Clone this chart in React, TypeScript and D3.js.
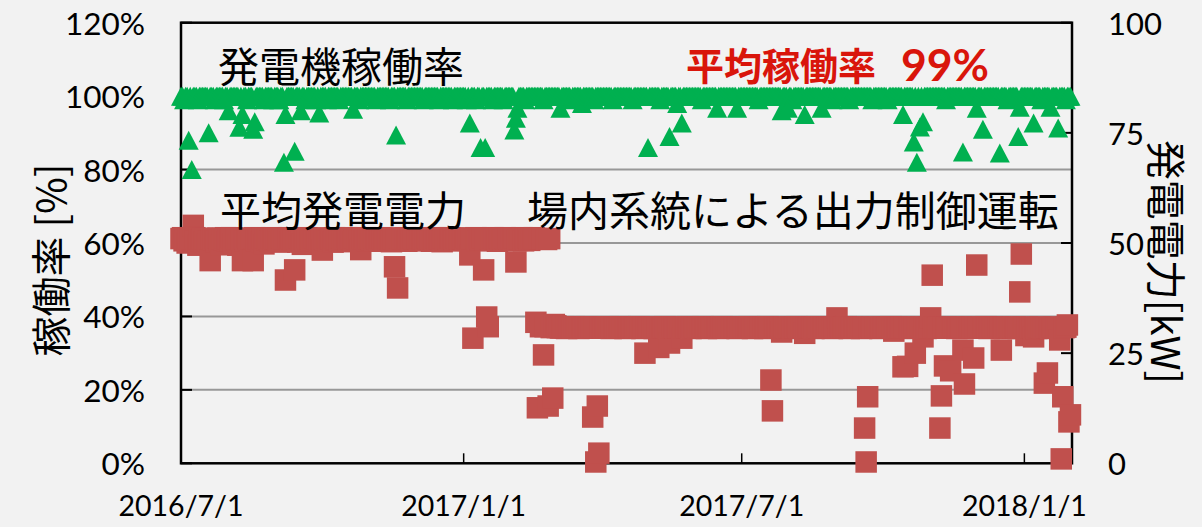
import React from "react";
import * as d3 from "d3";

// ---------- data ----------
const months = [
  "2016-07", "2016-08", "2016-09", "2016-10", "2016-11", "2016-12",
  "2017-01", "2017-02", "2017-03", "2017-04", "2017-05", "2017-06",
  "2017-07", "2017-08", "2017-09", "2017-10", "2017-11", "2017-12",
  "2018-01",
];

// daily generator availability [%], one row per month
const availabilityPct: number[][] = [
  [100,100,99,100,100,88,100,80,100,100, 100,99,100,100,100,100,100,100,90,100, 100,100,99,100,100,100,100,100,99,100,100],
  [96,100,100,100,100,100,100,91.5,100,95, 100,100,99,100,100,100,91,93,100,100, 100,100,100,99,100,100,100,100,100,99,100],
  [100,100,99,100,100,82,95,100,100,100, 100,100,85,100,100,100,96,100,100,99, 100,100,100,100,100,100,99,100,95.4,100],
  [100,100,100,99,100,100,100,100,100,100, 100,99,100,100,100,100,100,100,100,100, 96.4,100,100,100,99,100,100,100,100,100,100],
  [100,100,100,100,99,100,100,100,100,100, 100,100,100,99,100,100,100,89.4,100,100, 100,100,100,100,99,100,100,100,100,100],
  [100,100,100,100,100,99,100,100,100,100, 100,100,100,100,100,99,100,100,100,100, 100,100,100,100,99,100,100,100,100,100,100],
  [100,100,99,100,92.7,100,100,100,99,100, 100,86,100,100,86,100,100,100,100,99, 100,100,100,100,100,100,99,100,100,100,100],
  [100,100,90.8,94,96.7,100,100,100,100,99, 100,100,100,100,100,100,100,100,100,100, 100,99,100,100,100,100,100,100],
  [100,100,100,100,96.7,100,100,100,100,100, 100,99,100,100,100,100,100,100,98,100, 100,100,100,100,100,100,99,100,100,100,100],
  [100,100,100,100,100,100,100,99,100,100, 100,100,100,100,100,100,100,100,100,100, 99,100,100,100,100,100,100,100,100,100],
  [86,100,100,100,100,100,100,100,99,100, 100,100,100,100,89,100,100,100,100,98, 100,100,92.7,100,100,100,100,100,100,100,100],
  [100,100,100,100,99,100,100,100,100,100, 100,100,100,100,96.7,100,100,100,100,100, 100,100,100,100,100,100,100,96.7,100,100],
  [100,100,100,100,100,100,100,100,100,100, 100,99,100,100,100,100,100,100,100,100, 100,100,100,100,100,100,96,100,100,100,96.7],
  [100,100,99,100,100,100,100,100,100,100, 95,100,100,100,100,100,100,100,100,100, 100,96.7,100,100,100,100,100,100,99,100,100],
  [100,100,100,100,100,100,100,100,99,100, 100,100,100,100,100,100,100,100,100,100, 100,100,100,99,100,100,100,100,100,100],
  [100,100,100,99,100,100,100,100,100,100, 100,100,100,95,100,100,100,100,100,100, 87.5,100,82,100,91.6,100,93,100,100,100,100],
  [100,100,100,100,100,100,100,100,100,100, 99,100,100,100,100,100,100,100,100,100, 100,84.8,100,100,100,100,100,100,100,100],
  [96.7,100,100,100,91,100,100,100,100,100, 100,100,100,100,100,84.5,100,100,100,100, 99,100,100,100,100,100,100,89,97,100,100],
  [100,100,100,100,100,100,92.7,100,100,100, 100,99,100,100,100,100,100,97,100,100, 100,100,91.3,100,100,100,100,99,100,100,100],
];

// daily average generated power [kW], one row per month
const powerKW: number[][] = [
  [51,51.2,50.5,51,50,51,50.8,51,54,51.2, 50.5,49.5,51,50.6,51,50.2,51,49.8,50.5,46, 51,50.8,51,50.3,51.1,50.6,49.6,51,50.8,51.2,50.4],
  [51,50.6,51.2,50,50.8,51,49.5,51,50.7,46, 51,50.4,51.1,50.8,50,51,46,51.2,50.6,51, 50.9,50.2,51,49.8,51.1,50.7,51,50.5,51.2,50.8,51],
  [51,50.8,50.2,51.1,50.6,51,41.6,50.9,51.2,50.4, 51,50.7,43.9,51,50.2,51.1,50.8,49.7,51,50.6, 51.2,50.9,51,50.4,50.8,51.1,50.6,51,50.3,51],
  [48.4,51,50.8,51.1,50.5,51,50.9,50.2,51.2,50.7, 51,50.6,51.1,50.8,50.3,51,51.2,50.6,50.9,51, 50.5,51.1,50.8,51,50.4,48.5,51,50.9,51.2,50.6,51],
  [51,50.8,51.1,50.4,51,50.9,50.6,51.2,51,50.5, 50.8,51.1,50.7,51,50.3,51,44.6,50.8,39.8,51.1, 50.6,51,50.9,51.2,50.4,51,50.8,50.6,51.1,51],
  [50.9,51,50.5,51.2,50.8,51,50.6,51.1,50.9,51, 50.4,51,50.8,51.2,50.7,51,50.9,50.3,51.1,50.8, 51,50.6,51.2,50.9,51,50.5,51.1,50.8,51,50.6,51],
  [51,50.8,51.1,50.6,47.3,51,28.4,50.9,51.2,50.5, 51,50.8,51.1,43.9,50.7,33.2,31,51,50.6,51.2, 50.9,51,50.4,51.1,50.8,51,50.6,51.2,50.9,51,50.7],
  [51,50.8,51.1,45.7,50.6,51,50.9,51.2,50.5,51, 50.8,51.1,50.6,51,50.9,51.2,32,12.6,51,31, 51,24.6,31,50.8,13,51,30.8,14.8],
  [31.5,31.2,30.8,30.9,30.7,30.8,31,30.8,30.6,30.8, 30.9,30.8,30.7,31,30.8,30.8,30.6,30.9,30.8,30.7, 30.8,31,30.8,30.7,30.9,10.5,30.8,0.3,13,2.3,30.8],
  [30.8,30.7,30.9,30.8,31,30.8,30.6,30.8,30.9,30.8, 30.7,30.8,31,30.8,30.8,30.6,30.9,30.8,30.7,30.8, 30.9,30.8,30.7,30.8,31,30.8,30.6,30.8,25,30.8],
  [30.8,30.7,30.9,30.8,30.6,30.8,30.9,26.3,30.8,30.7, 30.8,31,30.8,30.6,27.3,30.8,30.9,30.8,30.7,30.8, 30.8,30.9,28.4,30.8,30.7,30.8,31,30.8,30.6,30.8,30.9],
  [30.8,30.7,30.9,30.8,30.8,31,30.8,30.6,30.8,30.9, 30.8,30.7,30.8,30.9,30.8,30.6,30.8,31,30.8,30.7, 30.9,30.8,30.8,30.7,30.8,30.9,30.8,30.6,30.8,30.8],
  [30.8,30.9,30.7,30.8,30.8,31,30.8,30.6,30.8,30.9, 30.8,30.7,30.8,30.9,30.8,30.6,30.8,31,30.8,18.9, 11.9,30.8,30.9,30.8,30.7,30.8,29.8,30.8,30.9,30.8,30.7],
  [30.8,30.9,30.7,30.8,30.8,31,30.8,30.6,30.8,30.9, 29.5,30.8,30.7,30.8,30.9,30.8,30.6,30.8,31,30.8, 30.7,30.9,30.8,30.8,30.7,30.8,30.9,30.8,30.6,30.8,30.8],
  [33,30.8,30.9,30.7,30.8,30.8,31,30.8,30.6,30.8, 30.9,30.8,30.7,30.8,30.9,30.8,30.6,30.8,8,0.3, 15.1,30.8,30.9,30.8,30.7,30.8,30.9,30.8,30.6,30.8],
  [30.8,30.9,30.7,30.8,30.8,31,30.8,30,30.8,30.9, 30.8,30.7,30.8,21.9,30.9,30.8,22,30.8,30.6,30.8, 30.9,25,30.8,30.7,30.8,30.9,28.7,30.8,30.6,30.8,30.8],
  [33,42.7,30.8,30.9,30.7,30.8,8,15.3,30.8,22.1, 30.9,30.8,30.7,21,30.8,30.9,30.8,30.6,30.8,30.8, 30.9,25.7,18,30.8,30.7,30.8,30.9,30.8,23.9,30.8],
  [45,30.8,30.9,30.7,30.8,30.8,31,30.8,30.6,30.8, 30.9,30.8,30.7,30.8,30.9,30.8,25.7,30.8,30.6,30.8, 30.8,30.9,30.7,30.8,30.8,30.9,30.8,30.6,38.9,47.5,30.8],
  [30.8,29,30.9,30.7,30.8,30.8,28.7,30.8,30.6,30.8, 30.9,30.8,30.7,18.2,30.8,20.5,30.8,30.6,30.8,30.9, 30.8,30.7,30.8,28,1,15.1,30.8,30.9,31.4,9.4,11],
];

const leftTicks = [0, 20, 40, 60, 80, 100, 120];
const rightTicks = [0, 25, 50, 75, 100];
const dateTicks = ["2016-07-01", "2017-01-01", "2017-07-01", "2018-01-01"];
const xDomain = ["2016-07-01", "2018-02-01"];

const availabilityTitle = "発電機稼働率";
const averageLabel = "平均稼働率";
const averageValue = "99%";
const powerTitle = "平均発電電力";
const controlLabel = "場内系統による出力制御運転";
const leftAxisTitle = "稼働率 [%]";
const rightAxisTitle = "発電電力[kW]";

// ---------- layout ----------
const W = 1202;
const H = 527;
const P = { left: 181, right: 1072, top: 22.7, bottom: 463.3 };
const GREEN = "#00b050";
const RED = "#c0504d";
const LAT = "Lato, 'Open Sans', sans-serif";
const CJK = "'Noto Sans CJK JP', 'Noto Sans', sans-serif";

const parseDay = d3.utcParse("%Y-%m-%d");
const fmt = d3.utcFormat("%Y/%-m/%-d");

function expand(series: number[][]) {
  const out: { date: Date; v: number }[] = [];
  months.forEach((m, mi) => {
    const [y, mo] = m.split("-").map(Number);
    series[mi].forEach((v, i) => {
      out.push({ date: new Date(Date.UTC(y, mo - 1, i + 1)), v });
    });
  });
  return out;
}

export default function App() {
  const x = d3
    .scaleUtc()
    .domain(xDomain.map((s) => parseDay(s) as Date))
    .range([P.left, P.right]);
  const yL = d3.scaleLinear().domain([0, 120]).range([P.bottom, P.top]);
  const yR = d3.scaleLinear().domain([0, 100]).range([P.bottom, P.top]);

  const avail = expand(availabilityPct);
  const power = expand(powerKW);

  const tw = 20;
  const th = 19;
  const tri = `M0,${-th / 2}L${tw / 2},${th / 2}L${-tw / 2},${th / 2}Z`;
  const sq = 21.5;

  return (
    <svg
      width={W}
      height={H}
      style={{ position: "absolute", left: 0, top: 0, display: "block" }}
    >
      <rect x={0} y={0} width={W} height={H} fill="#f2f2f2" />

      {/* gridlines */}
      {leftTicks
        .filter((t) => t > 0 && t < 120)
        .map((t) => (
          <line
            key={"g" + t}
            x1={P.left}
            x2={P.right}
            y1={yL(t)}
            y2={yL(t)}
            stroke="#989898"
            strokeWidth={2}
          />
        ))}

      {/* frame */}
      <rect
        x={P.left}
        y={P.top}
        width={P.right - P.left}
        height={P.bottom - P.top}
        fill="none"
        stroke="#000"
        strokeWidth={2.5}
      />

      {/* ticks */}
      {leftTicks.map((t) => (
        <line key={"lt" + t} x1={P.left} x2={P.left + 11} y1={yL(t)} y2={yL(t)} stroke="#000" strokeWidth={2} />
      ))}
      {rightTicks.map((t) => (
        <line key={"rt" + t} x1={P.right - 11} x2={P.right} y1={yR(t)} y2={yR(t)} stroke="#000" strokeWidth={2} />
      ))}
      {dateTicks.map((s) => {
        const xx = x(parseDay(s) as Date);
        return <line key={"bt" + s} x1={xx} x2={xx} y1={P.bottom - 10} y2={P.bottom} stroke="#000" strokeWidth={1.5} />;
      })}

      {/* tick labels */}
      {leftTicks.map((t) => (
        <text key={"ll" + t} x={145} y={yL(t)} textAnchor="end" dominantBaseline="central" fontFamily={LAT} fontSize={31.5} fill="#000">
          {t + "%"}
        </text>
      ))}
      {rightTicks.map((t) => (
        <text key={"rl" + t} x={1108} y={yR(t)} textAnchor="start" dominantBaseline="central" fontFamily={LAT} fontSize={31} fill="#000">
          {t}
        </text>
      ))}
      {dateTicks.map((s) => (
        <text key={"bl" + s} x={x(parseDay(s) as Date)} y={505} textAnchor="middle" dominantBaseline="central" fontFamily={LAT} fontSize={28.5} fill="#000">
          {fmt(parseDay(s) as Date)}
        </text>
      ))}

      {/* axis titles */}
      <text
        transform={`translate(48.5,260) rotate(-90)`}
        textAnchor="middle"
        dominantBaseline="central"
        fontFamily={CJK}
        fontSize={40}
        fill="#000"
      >
        {leftAxisTitle}
      </text>
      <text
        transform={`translate(1167.5,262) rotate(90)`}
        textAnchor="middle"
        dominantBaseline="central"
        fontFamily={CJK}
        fontSize={40}
        fill="#000"
      >
        {rightAxisTitle}
      </text>

      {/* series: availability (triangles) */}
      <g fill={GREEN}>
        {avail.map((d, i) => (
          <path key={"a" + i} d={tri} transform={`translate(${x(d.date)},${yL(d.v)})`} />
        ))}
      </g>

      {/* series: power (squares) */}
      <g fill={RED}>
        {power.map((d, i) => (
          <rect key={"p" + i} x={x(d.date) - sq / 2} y={yR(d.v) - sq / 2} width={sq} height={sq} />
        ))}
      </g>

      {/* annotations */}
      <text x={218} y={64} dominantBaseline="central" fontFamily={CJK} fontSize={41} fill="#000">
        {availabilityTitle}
      </text>
      <text x={686} y={63} dominantBaseline="central" fontFamily={CJK} fontSize={38} fontWeight="bold" fill="#d9150b">
        {averageLabel}
      </text>
      <text x={901} y={63} dominantBaseline="central" fontFamily={LAT} fontSize={44.5} fontWeight="bold" fill="#d9150b">
        {averageValue}
      </text>
      <text x={220} y={208} dominantBaseline="central" fontFamily={CJK} fontSize={41} fill="#000">
        {powerTitle}
      </text>
      <text x={527} y={208} dominantBaseline="central" fontFamily={CJK} fontSize={41} fill="#000">
        {controlLabel}
      </text>
    </svg>
  );
}
